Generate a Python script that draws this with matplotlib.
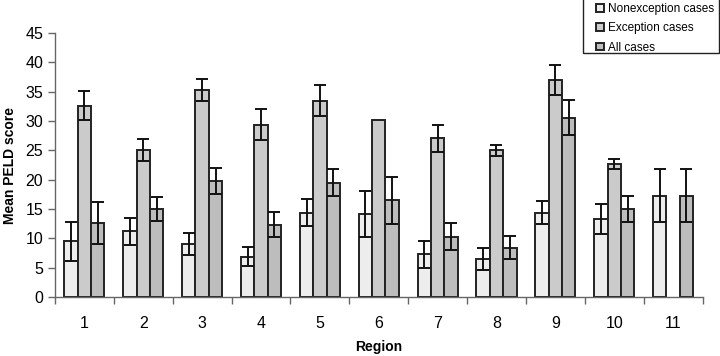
import matplotlib
matplotlib.use("Agg")
import matplotlib.pyplot as plt
from matplotlib.patches import Rectangle
import numpy as np

plt.rcParams['font.family'] = ['Liberation Sans', 'DejaVu Sans']

regions = ["1", "2", "3", "4", "5", "6", "7", "8", "9", "10", "11"]
nonexc = [9.5, 11.2, 9.1, 6.9, 14.4, 14.2, 7.3, 6.5, 14.4, 13.3, 17.3]
nonexc_err = [3.3, 2.3, 1.9, 1.65, 2.25, 3.95, 2.3, 1.9, 1.9, 2.5, 4.5]
exc = [32.6, 25.1, 35.3, 29.4, 33.5, 30.1, 27.1, 25.0, 37.0, 22.7, np.nan]
exc_err = [2.5, 1.9, 1.9, 2.6, 2.6, 0.0, 2.3, 1.0, 2.5, 0.9, np.nan]
allc = [12.6, 15.0, 19.8, 12.3, 19.5, 16.5, 10.3, 8.4, 30.6, 15.0, 17.3]
allc_err = [3.6, 2.05, 2.2, 2.15, 2.25, 4.0, 2.35, 2.0, 2.95, 2.15, 4.5]

series = [
    ("Nonexception cases", nonexc, nonexc_err, "#ededed"),
    ("Exception cases", exc, exc_err, "#cbcbcb"),
    ("All cases", allc, allc_err, "#bdbdbd"),
]

W, H = 720, 356
fig = plt.figure(figsize=(7.2, 3.56), dpi=100)
ax = fig.add_axes([0.0764, 0.1657, 0.8993, 0.7413])

x = np.arange(len(regions))
w = 0.227
handles = []
for i, (name, vals, errs, col) in enumerate(series):
    v = np.array(vals, dtype=float)
    e = np.array(errs, dtype=float)
    e_plot = np.where(e > 0, e, np.nan)
    b = ax.bar(x + (i - 1) * w, v, w, color=col, edgecolor="#222222",
               linewidth=1.4, label=name, zorder=2)
    ax.errorbar(x + (i - 1) * w, v, yerr=e_plot, fmt="none", ecolor="#111111",
                elinewidth=1.4, capsize=4, capthick=1.4, zorder=3)
    handles.append(b)

ax.set_xlim(-0.5, len(regions) - 0.5)
ax.set_ylim(0, 45)
ax.set_yticks(np.arange(0, 46, 5))
ax.set_xticks(x)
ax.set_xticklabels(regions)
ax.set_xticks(np.arange(-0.5, len(regions), 1), minor=True)
ax.tick_params(axis="x", which="major", length=0, labelsize=11.5, pad=14, colors="#000000")
ax.tick_params(axis="x", which="minor", length=5, width=1, color="#666666")
ax.tick_params(axis="y", length=5, width=1, color="#666666", labelsize=11.5)
for s in ["top", "right"]:
    ax.spines[s].set_visible(False)
for s in ["left", "bottom"]:
    ax.spines[s].set_color("#666666")
    ax.spines[s].set_linewidth(1.0)

ax.set_ylabel("Mean PELD score", fontsize=10, fontweight="bold", labelpad=6)
ax.set_xlabel("Region", fontsize=10, fontweight="bold", labelpad=6)

# legend frame
fig.patches.append(Rectangle((583 / W, 1 - 53 / H), 136 / W, 53 / H + 0.02,
                             transform=fig.transFigure, fill=False,
                             edgecolor="#222222", linewidth=1.0, zorder=5))
leg = fig.legend(handles=handles, labels=[s[0] for s in series],
                 loc="upper left", bbox_to_anchor=(596 / W, 1 - 3.0 / H),
                 fontsize=8.5, frameon=False, handlelength=0.65,
                 handleheight=0.65, handletextpad=0.4, labelspacing=0.62,
                 borderpad=0.0, borderaxespad=0.0)

fig.savefig("out.png", dpi=100)
